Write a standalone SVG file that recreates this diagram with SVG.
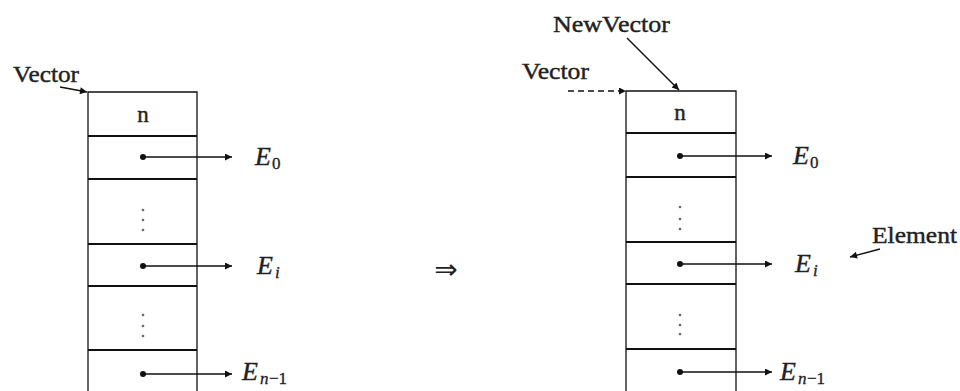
<svg xmlns="http://www.w3.org/2000/svg" width="960" height="391" viewBox="0 0 960 391">
<defs>
<marker id="ah" viewBox="0 0 10 10" refX="10" refY="5" markerWidth="10" markerHeight="7" markerUnits="userSpaceOnUse" orient="auto">
<path d="M0,0 L10,5 L0,10 z" fill="#111"/>
</marker>
<style>
.box{fill:none;stroke:#111;stroke-width:1.3}
.div{stroke:#111;stroke-width:2}
.ln{stroke:#111;stroke-width:1.4;fill:none}
.dot{fill:#111}
.vd{fill:#666}
.t{font-family:"Liberation Serif","Times New Roman",serif;font-size:23px;fill:#222;stroke:#222;stroke-width:0.4}
.e{font-family:"Liberation Serif","Times New Roman",serif;font-size:26px;font-style:italic;fill:#222;stroke:#222;stroke-width:0.4}
.s{font-family:"Liberation Serif","Times New Roman",serif;font-size:17px;fill:#222;stroke:#222;stroke-width:0.3}
.si{font-family:"Liberation Serif","Times New Roman",serif;font-size:17px;font-style:italic;fill:#222;stroke:#222;stroke-width:0.3}
</style>
</defs>
<rect width="960" height="391" fill="#fff"/>

<g id="left-vector">
<path class="box" d="M88,391 V92 H197 V391"/>
<line class="div" x1="88" y1="136" x2="197" y2="136"/>
<line class="div" x1="88" y1="179" x2="197" y2="179"/>
<line class="div" x1="88" y1="244" x2="197" y2="244"/>
<line class="div" x1="88" y1="286" x2="197" y2="286"/>
<line class="div" x1="88" y1="350" x2="197" y2="350"/>
<text class="t" x="143" y="122" text-anchor="middle">n</text>
<circle class="vd" cx="143" cy="210" r="1.3"/><circle class="vd" cx="143" cy="220" r="1.3"/><circle class="vd" cx="143" cy="230" r="1.3"/>
<circle class="vd" cx="143" cy="315" r="1.3"/><circle class="vd" cx="143" cy="326" r="1.3"/><circle class="vd" cx="143" cy="336" r="1.3"/>
</g>

<g id="right-vector">
<path class="box" d="M626,391 V91 H736 V391"/>
<line class="div" x1="626" y1="133" x2="736" y2="133"/>
<line class="div" x1="626" y1="177" x2="736" y2="177"/>
<line class="div" x1="626" y1="242" x2="736" y2="242"/>
<line class="div" x1="626" y1="284" x2="736" y2="284"/>
<line class="div" x1="626" y1="349" x2="736" y2="349"/>
<text class="t" x="680" y="120" text-anchor="middle">n</text>
<circle class="vd" cx="680" cy="207" r="1.3"/><circle class="vd" cx="680" cy="219" r="1.3"/><circle class="vd" cx="680" cy="229" r="1.3"/>
<circle class="vd" cx="680" cy="315" r="1.3"/><circle class="vd" cx="680" cy="325" r="1.3"/><circle class="vd" cx="680" cy="334" r="1.3"/>
</g>

<g id="labels">
<text class="t" x="13" y="82" textLength="66" lengthAdjust="spacingAndGlyphs">Vector</text>
<text class="t" x="522" y="79" textLength="67" lengthAdjust="spacingAndGlyphs">Vector</text>
<text class="t" x="553" y="32" textLength="117" lengthAdjust="spacingAndGlyphs">NewVector</text>
<text class="t" x="872" y="243" textLength="85" lengthAdjust="spacingAndGlyphs">Element</text>
<text x="446" y="279" text-anchor="middle" style="font-family:'DejaVu Sans','Liberation Serif',sans-serif;font-size:28px;fill:#222">⇒</text>
</g>

<g id="elements">
<text class="e" x="255" y="165">E</text><text class="s" x="272" y="169">0</text>
<text class="e" x="257" y="274">E</text><text class="si" x="275" y="278">i</text>
<text class="e" x="242" y="380">E</text><text class="si" x="260" y="384">n</text><text class="s" x="269" y="384">−1</text>
<text class="e" x="793" y="164">E</text><text class="s" x="810" y="168">0</text>
<text class="e" x="795" y="272">E</text><text class="si" x="813" y="276">i</text>
<text class="e" x="780" y="380">E</text><text class="si" x="798" y="384">n</text><text class="s" x="807" y="384">−1</text>
</g>

<g id="connectors">
<circle class="dot" cx="143" cy="157" r="3"/><line class="ln" x1="143" y1="157" x2="232" y2="157" marker-end="url(#ah)"/>
<circle class="dot" cx="143" cy="266" r="3"/><line class="ln" x1="143" y1="266" x2="232" y2="266" marker-end="url(#ah)"/>
<circle class="dot" cx="143" cy="374" r="3"/><line class="ln" x1="143" y1="374" x2="232" y2="374" marker-end="url(#ah)"/>
<circle class="dot" cx="680" cy="156" r="3"/><line class="ln" x1="680" y1="156" x2="772" y2="156" marker-end="url(#ah)"/>
<circle class="dot" cx="680" cy="264" r="3"/><line class="ln" x1="680" y1="264" x2="772" y2="264" marker-end="url(#ah)"/>
<circle class="dot" cx="680" cy="372" r="3"/><line class="ln" x1="680" y1="372" x2="772" y2="372" marker-end="url(#ah)"/>
<line class="ln" x1="60" y1="87" x2="87" y2="92" marker-end="url(#ah)"/>
<line class="ln" x1="568" y1="91" x2="626" y2="91" stroke-dasharray="6,4" marker-end="url(#ah)"/>
<line class="ln" x1="627" y1="38" x2="679" y2="90" marker-end="url(#ah)"/>
<line class="ln" x1="880" y1="249" x2="850" y2="257" marker-end="url(#ah)"/>
</g>
</svg>
